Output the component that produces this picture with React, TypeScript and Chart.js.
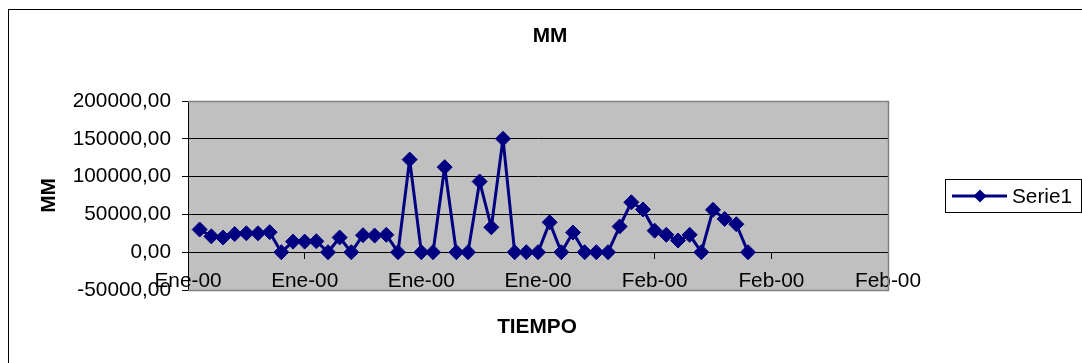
import React, { useEffect, useRef } from 'react';
import { Chart, registerables } from 'chart.js';

Chart.register(...registerables);

const chartTitle = 'MM';
const yAxisTitle = 'MM';
const xAxisTitle = 'TIEMPO';
const seriesName = 'Serie1';

// one value per day (day 1 .. day 48)
const mmValues = [
  30000, 21000, 19500, 24000, 25000, 25000, 26500, 0, 14000, 14000,
  14500, 0, 19500, 0, 22500, 22000, 23000, 0, 122500, 0,
  0, 112500, 0, 0, 93500, 33000, 150000, 0, 0, 0,
  39500, 0, 26000, 0, 0, 0, 34000, 66000, 56500, 28500,
  23000, 15500, 23000, 0, 56000, 44000, 37000, 0,
];

// x tick labels at day 0, 10, 20, ... 60
const xTickLabels = ['Ene-00', 'Ene-00', 'Ene-00', 'Ene-00', 'Feb-00', 'Feb-00', 'Feb-00'];
const xMin = 0;
const xMax = 60;
const xStep = 10;

const yMin = -50000;
const yMax = 200000;
const yStep = 50000;

const FONT = '"Liberation Sans", Arial, Helvetica, sans-serif';
const NAVY = '#000080';
const FS = 20.8;

const decorPlugin = {
  id: 'decor',
  beforeDraw(chart: any) {
    const { ctx, chartArea: a, width, height } = chart;
    ctx.save();
    ctx.fillStyle = '#ffffff';
    ctx.fillRect(0, 0, width, height);
    ctx.fillStyle = '#C0C0C0';
    ctx.fillRect(a.left, a.top, a.right - a.left, a.bottom - a.top);
    ctx.strokeStyle = '#000000';
    ctx.lineWidth = 1;
    ctx.strokeRect(8.5, 9.5, width + 20, height + 20);
    ctx.restore();
  },
  beforeDatasetsDraw(chart: any) {
    const { ctx, chartArea: a } = chart;
    ctx.save();
    ctx.strokeStyle = '#808080';
    ctx.lineWidth = 1.5;
    ctx.beginPath();
    ctx.moveTo(a.left, a.top + 0.5);
    ctx.lineTo(a.right + 0.5, a.top + 0.5);
    ctx.lineTo(a.right + 0.5, a.bottom + 0.5);
    ctx.lineTo(a.left, a.bottom + 0.5);
    ctx.stroke();
    ctx.restore();
  },
  afterDraw(chart: any) {
    const { ctx } = chart;
    ctx.save();
    ctx.fillStyle = '#000000';
    ctx.textBaseline = 'alphabetic';
    ctx.textAlign = 'center';
    ctx.font = `bold ${FS}px ${FONT}`;
    ctx.fillText(chartTitle, 550, 41.5);
    ctx.fillText(xAxisTitle, 537, 333);
    ctx.save();
    ctx.translate(55, 195.5);
    ctx.rotate(-Math.PI / 2);
    ctx.fillText(yAxisTitle, 0, 0);
    ctx.restore();

    // legend
    ctx.strokeStyle = '#000000';
    ctx.lineWidth = 1;
    ctx.strokeRect(945.5, 179.5, 136, 33);
    ctx.strokeStyle = NAVY;
    ctx.lineWidth = 3;
    ctx.beginPath();
    ctx.moveTo(952, 196);
    ctx.lineTo(1007, 196);
    ctx.stroke();
    ctx.fillStyle = NAVY;
    ctx.beginPath();
    ctx.moveTo(980, 189.5);
    ctx.lineTo(986.5, 196);
    ctx.lineTo(980, 202.5);
    ctx.lineTo(973.5, 196);
    ctx.closePath();
    ctx.fill();
    ctx.fillStyle = '#000000';
    ctx.textAlign = 'left';
    ctx.font = `${FS}px ${FONT}`;
    ctx.fillText(seriesName, 1012, 203);
    ctx.restore();
  },
};

export default function App() {
  const ref = useRef<HTMLCanvasElement>(null);

  useEffect(() => {
    if (!ref.current) return;
    const chart = new Chart(ref.current, {
      type: 'line',
      data: {
        datasets: [
          {
            label: seriesName,
            data: mmValues.map((v, i) => ({ x: i + 1, y: v })),
            borderColor: NAVY,
            backgroundColor: NAVY,
            borderWidth: 3,
            borderJoinStyle: 'round',
            tension: 0,
            pointStyle: 'rectRot',
            pointRadius: 7.5,
            pointBorderWidth: 1,
            pointBorderColor: NAVY,
            pointBackgroundColor: NAVY,
          },
        ],
      },
      options: {
        responsive: false,
        animation: false,
        layout: { padding: { left: 0, top: 101, right: 194, bottom: 73 } },
        plugins: {
          legend: { display: false },
          title: { display: false },
          tooltip: { enabled: false },
        },
        scales: {
          x: {
            type: 'linear',
            position: { y: 0 } as any,
            min: xMin,
            max: xMax,
            ticks: {
              stepSize: xStep,
              autoSkip: false,
              maxRotation: 0,
              minRotation: 0,
              padding: 11,
              color: '#000000',
              font: { family: FONT, size: FS },
              callback: (v: any) => xTickLabels[Math.round((Number(v) - xMin) / xStep)] ?? '',
            },
            grid: {
              drawOnChartArea: false,
              drawTicks: true,
              tickLength: 6,
              tickColor: '#000000',
            },
            border: { color: '#000000', width: 1 },
          },
          y: {
            min: yMin,
            max: yMax,
            ticks: {
              stepSize: yStep,
              padding: 11,
              color: '#000000',
              font: { family: FONT, size: FS },
              callback: (v: any) => Number(v).toFixed(2).replace('.', ','),
            },
            grid: {
              color: (c: any) =>
                c.tick && (c.tick.value === yMax || c.tick.value === yMin) ? 'rgba(0,0,0,0)' : '#000000',
              tickLength: 6,
              tickColor: '#000000',
            },
            border: { color: '#000000', width: 1 },
            afterFit: (s: any) => {
              s.width = 188;
            },
          },
        },
      },
      plugins: [decorPlugin],
    });
    return () => chart.destroy();
  }, []);

  return (
    <div style={{ position: 'absolute', left: 0, top: 0, width: 1082, height: 363 }}>
      <canvas ref={ref} width={1082} height={363} style={{ display: 'block' }} />
    </div>
  );
}
